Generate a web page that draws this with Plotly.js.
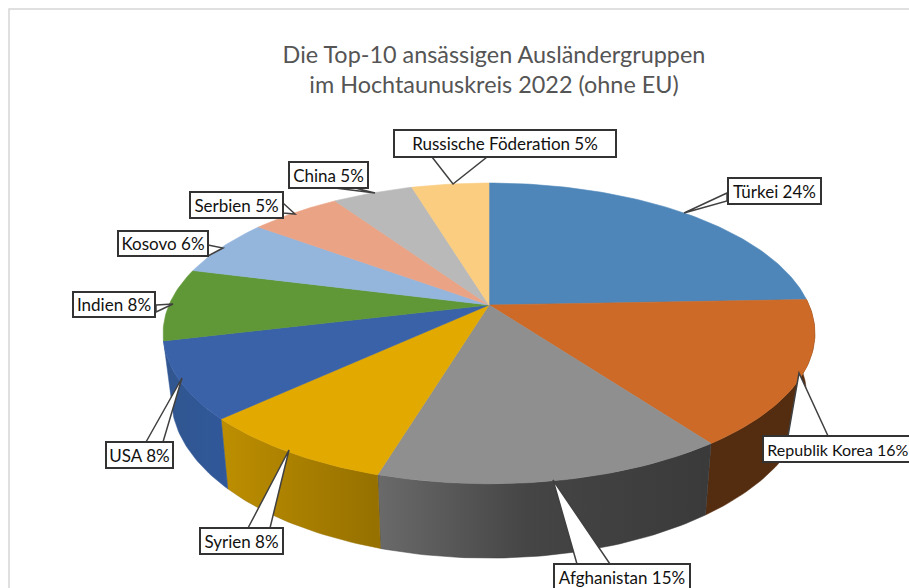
<!DOCTYPE html>
<html><head><meta charset="utf-8">
<script src="https://cdn.plot.ly/plotly-3.0.1.min.js"></script>
<style>html,body{margin:0;padding:0;background:#fff;overflow:hidden}#c{width:909px;height:588px}</style>
</head><body><div id="c"></div>
<script>
// --- data (order: clockwise from 12 o'clock) ---
const categories = ["Türkei","Republik Korea","Afghanistan","Syrien","USA","Indien","Kosovo","Serbien","China","Russische Föderation"];
const shares = [24.4,15.6,14.6,8.4,8.2,7.8,6.2,5.4,4.8,4.6];
const topColors = ["#4e86b9","#cd6a27","#8f8f8f","#e2a900","#3a62a8","#609737","#94b6dd","#eba385","#b9b9b9","#facd80"];
const wallStops = [null,[["0","#542c10"],["1","#542c10"]],[["0","#6a6a6a"],["0.45","#454545"],["1","#3a3a3a"]],[["0","#bd8e00"],["1","#957000"]],[["0","#31568f"],["1","#30589a"]],null,null,null,null,null];
const boxes = [[727,822,177,205],[762,914,435,463],[553,691,563,591],[199,284,527,555],[105,174,441,469],[72,156,291,318],[117,209,230,257],[189,284,191,219],[288,369,161,189],[393,617,129,158]];
const boxFontSizes = [17,16,17,17,17,17,17,17,17,17];
const callouts = [[[727,193],[684,213],[727,201]],[[788,436],[799,373],[828,436]],[[577,564],[553,480],[610,564]],[[248,528],[289,450],[270,528]],[[146,442],[182,378],[163,442]],[[156,305],[173,304],[156,312]],[[208,245],[223,248],[208,256]],[[283,203],[295,214],[283,213]],[[335,188],[375,193],[355,188]],[[432,157],[453,184],[487,157]]];

// --- tilted-disc projection ---
const cx=489, k=0.189, topDisc={R:320,H:145,cy:305}, botDisc={R:312,H:155,cy:367};
function proj(deg,d){const t=deg*Math.PI/180,u=Math.sin(t),v=Math.cos(t),w=1+k*v;return [cx+d.R*u/w,d.cy-d.H*v/w];}
function arc(a,b,d){const p=[],n=Math.max(2,Math.ceil(Math.abs(b-a)));for(let i=0;i<=n;i++)p.push(proj(a+(b-a)*i/n,d));return p;}
const total=shares.reduce((a,b)=>a+b,0);
let acc=0; const spans=shares.map(s=>{const a=acc/total*360;acc+=s;return [a,acc/total*360];});
const traces=[];
// side walls
[1,2,3,4].forEach(i=>{
  const [a,b]=spans[i];
  const pts=arc(a,b,topDisc).concat(arc(b,a,botDisc));pts.push(pts[0]);
  traces.push({type:"scatter",mode:"lines",name:categories[i]+" (Seite)",x:pts.map(p=>p[0]),y:pts.map(p=>p[1]),fill:"toself",hoverinfo:"skip",
    line:{width:0.5,color:wallStops[i][wallStops[i].length-1][1]},
    fillgradient:{type:"horizontal",colorscale:wallStops[i].map(s=>[+s[0],s[1]])}});
});
// top faces
categories.forEach((c,i)=>{
  const [a,b]=spans[i];
  const pts=[[cx,topDisc.cy]].concat(arc(a,b,topDisc));pts.push(pts[0]);
  traces.push({type:"scatter",mode:"lines",name:c,x:pts.map(p=>p[0]),y:pts.map(p=>p[1]),fill:"toself",fillcolor:topColors[i],
    line:{width:0.6,color:topColors[i]},text:c+" "+Math.round(shares[i])+"%",hoverinfo:"text"});
});
const shapes=[{type:"path",layer:"below",xref:"x",yref:"y",path:"M9,588 L9,9 L909,9",line:{color:"#d6d6d6",width:1.5}}];
callouts.forEach(p=>shapes.push({type:"path",layer:"above",xref:"x",yref:"y",
  path:"M"+p.map(q=>q.join(",")).join(" L")+" Z",fillcolor:"#fff",line:{color:"#404040",width:1.5}}));
const annotations=categories.map((c,i)=>{const b=boxes[i];return {
  text:c+" "+Math.round(shares[i])+"%",xref:"x",yref:"y",x:(b[0]+b[1])/2,y:(b[2]+b[3])/2,xanchor:"center",yanchor:"middle",
  width:b[1]-b[0]-4,height:b[3]-b[2]-4,align:"center",valign:"middle",showarrow:false,bgcolor:"#fff",bordercolor:"#333",borderwidth:2,borderpad:0,
  font:{family:"Lato, sans-serif",size:boxFontSizes[i],color:"#111"}};});
Plotly.newPlot("c",traces,{
  width:909,height:588,margin:{l:0,r:0,t:0,b:0},paper_bgcolor:"#fff",plot_bgcolor:"#fff",showlegend:false,
  xaxis:{range:[0,909],visible:false,fixedrange:true},
  yaxis:{range:[588,0],visible:false,fixedrange:true},
  title:{text:"Die Top-10 ansässigen Ausländergruppen<br>im Hochtaunuskreis 2022 (ohne EU)",x:494/909,xanchor:"center",y:1-63/588,yanchor:"middle",
    font:{family:"Lato, sans-serif",size:23.4,color:"#555"}},
  shapes,annotations
},{displayModeBar:false,staticPlot:true});
</script></body></html>
